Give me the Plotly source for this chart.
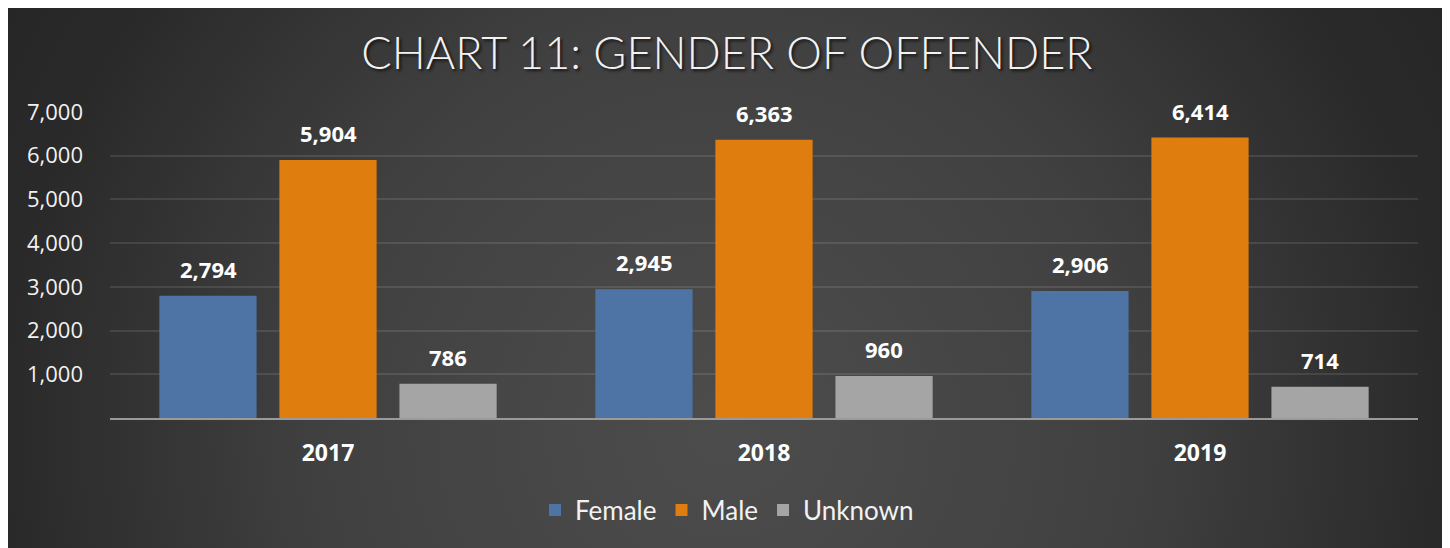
import base64
import plotly.graph_objects as go

# ---- data ----
years = ["2017", "2018", "2019"]
female = [2794, 2945, 2906]
male = [5904, 6363, 6414]
unknown = [786, 960, 714]
series_names = ["Female", "Male", "Unknown"]
series_values = [female, male, unknown]
series_colors = ["#4e74a6", "#df7d0e", "#a5a5a5"]
y_ticks = [1000, 2000, 3000, 4000, 5000, 6000, 7000]
title_text = "CHART 11: GENDER OF OFFENDER"

# ---- geometry (pixels, figure coords; page adds 8px body margin) ----
W, H = 1436, 540
L, R, T, B = 102, 26, 104, 130
plot_w = W - L - R
plot_h = H - T - B

# background radial gradient as SVG
svg = f'''<svg xmlns="http://www.w3.org/2000/svg" width="{W}" height="{H}" viewBox="0 0 {W} {H}" preserveAspectRatio="none">
<defs><radialGradient id="g" gradientUnits="userSpaceOnUse" cx="{W/2}" cy="420" r="830">
<stop offset="0" stop-color="#4c4c4c"/>
<stop offset="0.2" stop-color="#484848"/>
<stop offset="0.5" stop-color="#404040"/>
<stop offset="0.86" stop-color="#2a2a2a"/>
<stop offset="1" stop-color="#262626"/>
</radialGradient></defs>
<rect x="0" y="0" width="{W}" height="{H}" fill="url(#g)"/>
</svg>'''
src = "data:image/svg+xml;base64," + base64.b64encode(svg.encode()).decode()

img = dict(
    source=src, xref="paper", yref="paper",
    x=-L / plot_w, y=1 + T / plot_h,
    sizex=W / plot_w, sizey=H / plot_h,
    xanchor="left", yanchor="top", sizing="stretch", layer="below",
)

fig = go.Figure()
for name, vals, col in zip(series_names, series_values, series_colors):
    fig.add_trace(go.Bar(
        name=name, x=years, y=vals, marker=dict(color=col, line=dict(width=0)),
    ))

# data labels (x given as category index)
offsets = [-120, 0, 120]
annotations = []
for vals, off in zip(series_values, offsets):
    for i, v in enumerate(vals):
        annotations.append(dict(
            x=i, y=v, xref="x", yref="y", text=f"{v:,}", showarrow=False,
            xshift=off, yshift=27,
            font=dict(family="Open Sans", size=22, color="#ffffff", weight="bold"),
        ))

fig.update_layout(
    width=W, height=H,
    margin=dict(l=L, r=R, t=T, b=B),
    paper_bgcolor="#333333",
    plot_bgcolor="rgba(0,0,0,0)",
    images=[img],
    barmode="group", bargap=0.174, bargroupgap=0.19,
    title=dict(
        text=title_text, x=719 / W, xref="container", xanchor="center",
        y=1 - 45 / H, yref="container", yanchor="middle",
        font=dict(family="Lato", size=45, color="#f2f2f2", weight=300,
                  shadow="2px 2px 3px rgba(0,0,0,0.7)"),
    ),
    showlegend=True,
    legend=dict(
        orientation="h", x=(719 - L) / plot_w, xanchor="center",
        y=1 - 502 / H, yref="container", yanchor="middle",
        font=dict(family="Lato", size=26, color="#f2f2f2"),
        bgcolor="rgba(0,0,0,0)", itemwidth=30, traceorder="normal",
    ),
    annotations=annotations,
    font=dict(family="Open Sans", color="#f2f2f2"),
)
fig.update_yaxes(
    range=[0, 7000], tickvals=y_ticks, tickformat=",d",
    showgrid=True, gridcolor="rgba(255,255,255,0.10)", gridwidth=1.5,
    zeroline=False, showline=False, ticks="", ticklabelstandoff=26,
    tickfont=dict(family="Open Sans", size=22, color="#f2f2f2"),
)
fig.update_xaxes(
    type="category", range=[-0.5, len(years) - 0.5],
    showline=True, linecolor="#9a9a9a", linewidth=2, ticks="",
    showgrid=False, ticklabelstandoff=13,
    tickfont=dict(family="Open Sans", size=23, color="#ffffff", weight="bold"),
)

fig.write_html("out.html")
